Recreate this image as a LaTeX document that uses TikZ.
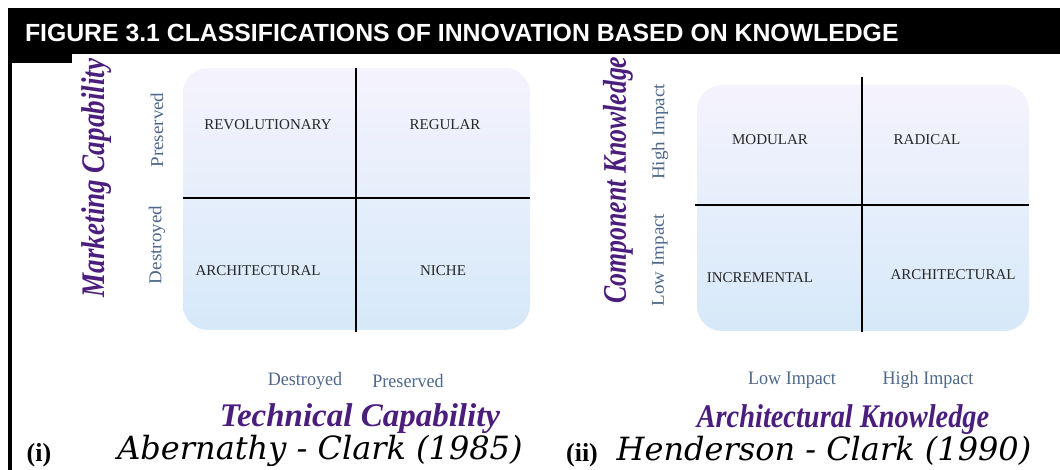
\documentclass[tikz,border=0pt]{standalone}
\usepackage{fontspec}
\setmainfont{Liberation Serif}
\newfontfamily\headfont{Liberation Sans}
\newfontfamily\citefont{DejaVu Serif}
\usepackage{tikz}

\begin{document}
\begin{tikzpicture}[x=1pt,y=1pt,
  quad/.style={text=quadColor,inner sep=0pt,outer sep=0pt,font=\fontsize{15}{17}\selectfont},
  tick/.style={text=tickColor,inner sep=0pt,outer sep=0pt,font=\fontsize{19}{21}\selectfont,xscale=0.95},
  axis/.style={text=axisColor,inner sep=0pt,outer sep=0pt,font=\fontsize{33}{36}\selectfont\bfseries\itshape},
  cite/.style={text=black,inner sep=0pt,outer sep=0pt,font=\citefont\fontsize{32}{35}\selectfont\itshape},
  tag/.style={text=black,inner sep=0pt,outer sep=0pt,font=\fontsize{26}{28}\selectfont\bfseries},
  divider/.style={draw=black,line width=2.6pt},
  panel/.style={rounded corners=25pt,top color=topColor,middle color=midColor,bottom color=botColor}]
\definecolor{fillColor}{RGB}{255,255,255}
\definecolor{quadColor}{RGB}{40,40,40}
\definecolor{tickColor}{RGB}{78,104,138}
\definecolor{axisColor}{RGB}{75,30,125}
\definecolor{topColor}{RGB}{245,243,253}
\definecolor{midColor}{RGB}{230,234,250}
\definecolor{botColor}{RGB}{214,233,249}
\path[use as bounding box,fill=fillColor] (0,0) rectangle (1060,470);

% header band and frame
\path[fill=black] (8,416) rectangle (1060,462);
\path[fill=black] (8,0) rectangle (12,416);
\path[fill=black] (12,407) rectangle (72,416);
\node[text=white,anchor=base west,inner sep=0pt,outer sep=0pt,font=\headfont\bfseries\fontsize{24.8}{27}\selectfont] (title) at (25,428) {FIGURE 3.1 CLASSIFICATIONS OF INNOVATION BASED ON KNOWLEDGE};

% (i) Abernathy - Clark
\shade[panel] (183,140) rectangle (530,402);
\coordinate (ac top) at (356,402);
\coordinate (ac bottom) at (356,138);
\coordinate (ac left) at (183,272);
\coordinate (ac right) at (530,272);
\draw[divider] (ac top) -- (ac bottom);
\draw[divider] (ac left) -- (ac right);

\node[quad] (revolutionary) at (268,345) {REVOLUTIONARY};
\node[quad] (regular) at (445,345) {REGULAR};
\node[quad] (acarch) at (258,199) {ARCHITECTURAL};
\node[quad] (niche) at (443,199) {NICHE};

\node[tick,rotate=90] (mkpres) at (157,340) {Preserved};
\node[tick,rotate=90] (mkdest) at (157,225) {Destroyed};
\node[axis,rotate=90,xscale=0.82] (marketing) at (97,292) {Marketing Capability};

\node[tick] (tcdest) at (305,89) {Destroyed};
\node[tick] (tcpres) at (408,89) {Preserved};
\node[axis] (technical) at (360,51) {Technical Capability};

\node[cite] (abernathy) at (320,19) {Abernathy - Clark (1985)};
\node[tag] (tagi) at (39,15) {(i)};

% (ii) Henderson - Clark
\shade[panel] (697,139) rectangle (1029,385);
\coordinate (hc top) at (862,393);
\coordinate (hc bottom) at (862,138);
\coordinate (hc left) at (695,265);
\coordinate (hc right) at (1029,265);
\draw[divider] (hc top) -- (hc bottom);
\draw[divider] (hc left) -- (hc right);

\node[quad] (modular) at (770,330) {MODULAR};
\node[quad] (radical) at (927,330) {RADICAL};
\node[quad] (incremental) at (760,192) {INCREMENTAL};
\node[quad] (hcarch) at (953,195) {ARCHITECTURAL};

\node[tick,rotate=90] (cphigh) at (660,338) {High Impact};
\node[tick,rotate=90] (cplow) at (660,210) {Low Impact};
\node[axis,rotate=90,xscale=0.78] (component) at (618,290) {Component Knowledge};

\node[tick] (arlow) at (792,90) {Low Impact};
\node[tick] (arhigh) at (928,90) {High Impact};
\node[axis,xscale=0.86] (architectural) at (843,50) {Architectural Knowledge};

\node[cite] (henderson) at (824,19) {Henderson - Clark (1990)};
\node[tag] (tagii) at (582,15) {(ii)};
\end{tikzpicture}
\end{document}
